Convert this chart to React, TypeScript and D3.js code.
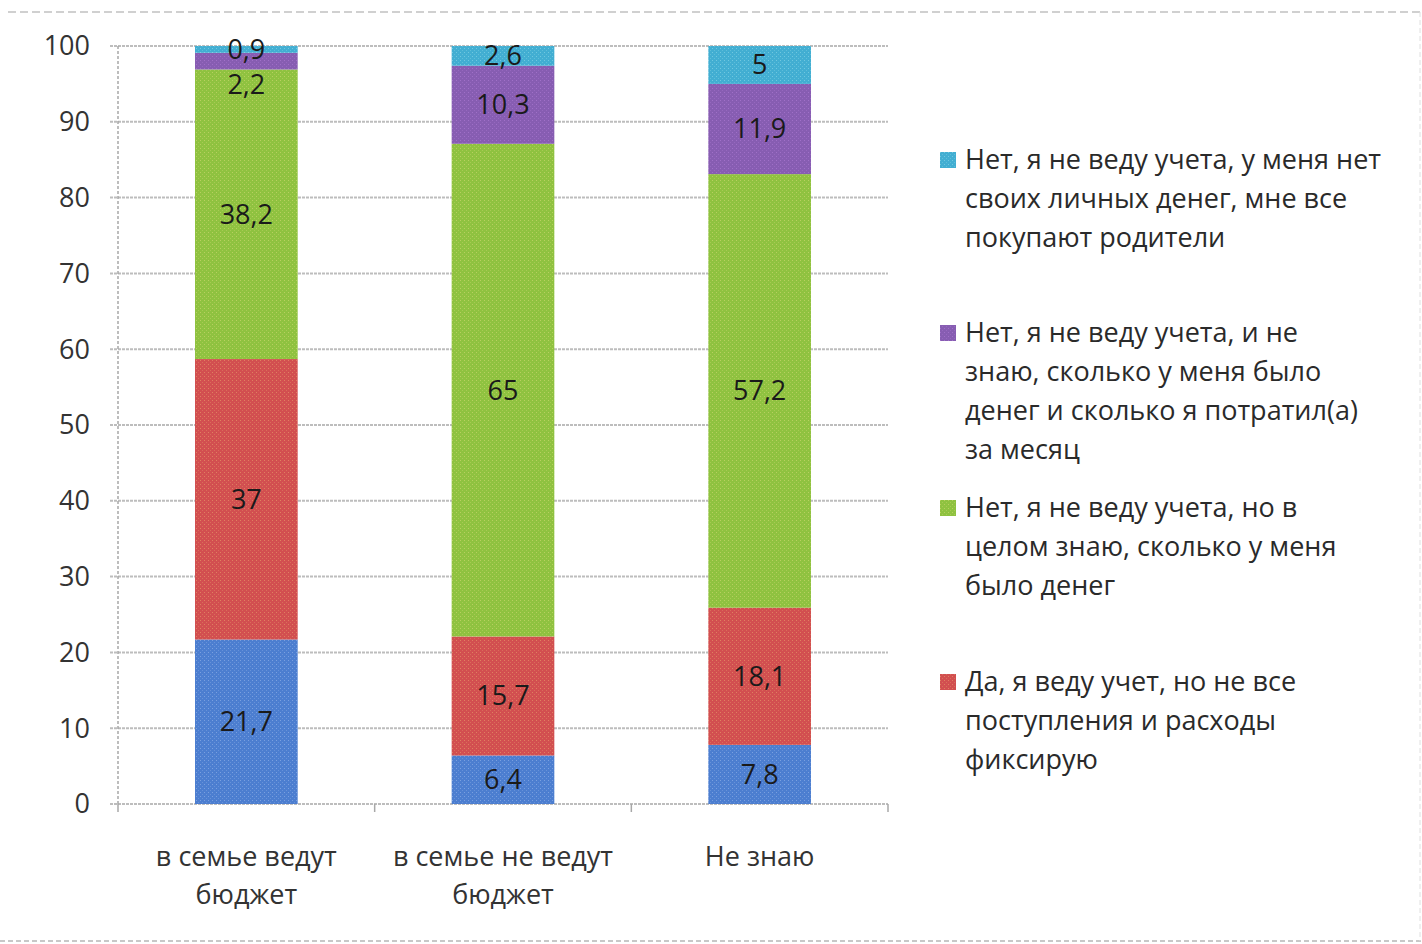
import React from 'react';
import * as d3 from 'd3';

const categories = ['в семье ведут бюджет', 'в семье не ведут бюджет', 'Не знаю'];
const categoryLines = [['в семье ведут', 'бюджет'], ['в семье не ведут', 'бюджет'], ['Не знаю']];

const seriesKeys = ['blue', 'red', 'green', 'purple', 'cyan'];
const blueValues = [21.7, 6.4, 7.8];
const redValues = [37, 15.7, 18.1];
const greenValues = [38.2, 65, 57.2];
const purpleValues = [2.2, 10.3, 11.9];
const cyanValues = [0.9, 2.6, 5];

const yTicks = [0, 10, 20, 30, 40, 50, 60, 70, 80, 90, 100];

const legendItems = [
  { key: 'cyan', lines: ['Нет, я не веду учета, у меня нет', 'своих личных денег, мне все', 'покупают родители'] },
  { key: 'purple', lines: ['Нет, я не веду учета, и не', 'знаю, сколько у меня было', 'денег и сколько я потратил(а)', 'за месяц'] },
  { key: 'green', lines: ['Нет, я не веду учета, но в', 'целом знаю, сколько у меня', 'было денег'] },
  { key: 'red', lines: ['Да, я веду учет, но не все', 'поступления и расходы', 'фиксирую'] },
];

const colors: Record<string, string> = {
  blue: '#4c7ed0',
  red: '#d24f50',
  green: '#8fc240',
  purple: '#875db2',
  cyan: '#42aed2',
};
const dotColors: Record<string, string> = {
  blue: '#7aa0e0',
  red: '#e08060',
  green: '#b8d060',
  purple: '#a070c8',
  cyan: '#70c8e0',
};

const rows = categories.map((c, i) => ({
  category: c,
  blue: blueValues[i],
  red: redValues[i],
  green: greenValues[i],
  purple: purpleValues[i],
  cyan: cyanValues[i],
}));

const W = 1422;
const H = 944;
const font = "'Open Sans', 'Noto Sans', sans-serif";
const fs = 27;

const App: React.FC = () => {
  const x = d3.scaleBand<string>().domain(categories).range([118, 888]).paddingInner(0.6).paddingOuter(0.3);
  const y = d3.scaleLinear().domain([0, 100]).range([804, 46]);
  const stack = d3.stack<any>().keys(seriesKeys);
  const stacked = stack(rows);

  const gap = (x.step() - x.bandwidth()) / 2;
  const xTickPositions = categories.map(c => (x(c) || 0) - gap).concat([x.range()[1]]);

  // data label positions: centered, pushed down if overlapping the label above
  const labels: { x: number; y: number; text: string }[] = [];
  categories.forEach((c, ci) => {
    let prev = -Infinity;
    for (let si = stacked.length - 1; si >= 0; si--) {
      const d = stacked[si][ci];
      let ly = y((d[0] + d[1]) / 2);
      if (ly < prev + 35) ly = prev + 35;
      prev = ly;
      const v = d.data[stacked[si].key] as number;
      labels.push({ x: (x(c) || 0) + x.bandwidth() / 2, y: ly, text: String(v).replace('.', ',') });
    }
  });

  return (
    <div style={{ position: 'absolute', left: 0, top: 0 }}>
      <svg width={W} height={H} style={{ display: 'block', background: '#fff' }}>
        <defs>
          {seriesKeys.map(k => (
            <pattern key={k} id={`pat-${k}`} width={4} height={4} patternUnits="userSpaceOnUse">
              <rect width={4} height={4} fill={colors[k]} />
              <rect x={0} y={0} width={1} height={1} fill={dotColors[k]} />
              <rect x={2} y={2} width={1} height={1} fill={dotColors[k]} opacity={0.6} />
            </pattern>
          ))}
        </defs>

        {/* frame dashes */}
        <line x1={8} x2={W} y1={12} y2={12} stroke="#d0d0d0" strokeWidth={2} strokeDasharray="8 4" />
        <line x1={0} x2={W} y1={941} y2={941} stroke="#c8c8c8" strokeWidth={2} strokeDasharray="5 3" />
        <line x1={1420} x2={1420} y1={12} y2={941} stroke="#e0e0e0" strokeWidth={1} strokeDasharray="5 3" />

        {/* gridlines + y ticks */}
        {yTicks.map(t => (
          <g key={t}>
            <line x1={110} x2={888} y1={y(t)} y2={y(t)} stroke="#bdbdbd" strokeWidth={2} strokeDasharray="3 1" />
            <text x={90} y={y(t)} dy="0.35em" textAnchor="end" fontFamily={font} fontSize={fs} fontWeight={500} fill="#333">
              {t}
            </text>
          </g>
        ))}
        <line x1={118} x2={118} y1={y(100)} y2={y(0)} stroke="#a8a8a8" strokeWidth={1.5} strokeDasharray="3 2" />

        {/* x ticks */}
        {xTickPositions.map((p, i) => (
          <line key={i} x1={p} x2={p} y1={y(0)} y2={y(0) + 8} stroke="#a8a8a8" strokeWidth={1.5} />
        ))}

        {/* bars */}
        {stacked.map(s => (
          <g key={s.key}>
            {s.map((d, i) => (
              <rect
                key={i}
                x={x(categories[i])}
                y={y(d[1])}
                width={x.bandwidth()}
                height={y(d[0]) - y(d[1])}
                fill={`url(#pat-${s.key})`}
              />
            ))}
          </g>
        ))}

        {/* data labels */}
        {labels.map((l, i) => (
          <text key={i} x={l.x} y={l.y} dy="0.35em" textAnchor="middle" fontFamily={font} fontSize={fs} fontWeight={500} fill="#1a1a1a">
            {l.text}
          </text>
        ))}

        {/* category labels */}
        {categories.map((c, i) => (
          <text key={c} textAnchor="middle" fontFamily={font} fontSize={fs} fontWeight={500} fill="#333">
            {categoryLines[i].map((ln, j) => (
              <tspan key={j} x={(x(c) || 0) + x.bandwidth() / 2} y={866 + j * 38}>
                {ln}
              </tspan>
            ))}
          </text>
        ))}

        {/* legend */}
        {legendItems.map((item, i) => {
          const top = [160, 333, 508, 682][i];
          return (
            <g key={item.key}>
              <rect x={940} y={top - 8} width={16} height={16} fill={`url(#pat-${item.key})`} />
              {item.lines.map((ln, j) => (
                <text key={j} x={965} y={top + j * 39} dy="0.35em" fontFamily={font} fontSize={fs} fontWeight={500} fill="#2a2a2a">
                  {ln}
                </text>
              ))}
            </g>
          );
        })}
      </svg>
    </div>
  );
};

export default App;
